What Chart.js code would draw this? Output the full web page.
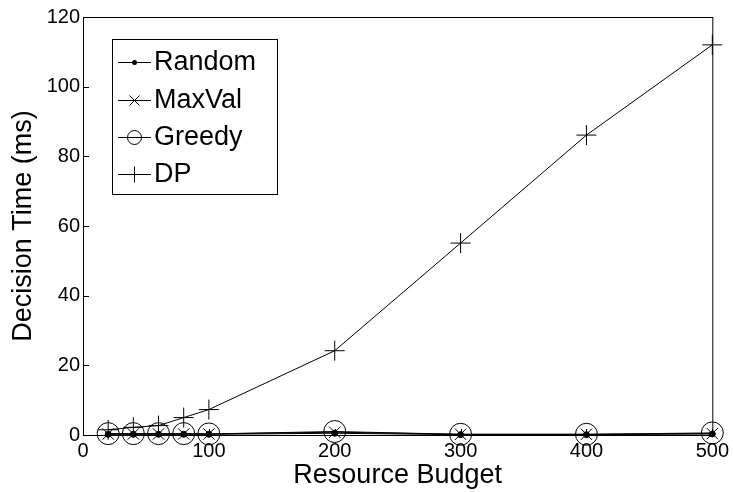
<!DOCTYPE html>
<html>
<head>
<meta charset="utf-8">
<script src="https://cdn.jsdelivr.net/npm/chart.js@4"></script>
<style>
  body { margin: 0; background: #fff; }
  #wrap { width: 733px; height: 492px; }
</style>
</head>
<body>
<div id="wrap"><canvas id="timeChart"></canvas></div>
<script>
const budgets = [20, 40, 60, 80, 100, 200, 300, 400, 500];
const randomTime = [0.2, 0.2, 0.2, 0.2, 0.2, 0.5, 0.1, 0.1, 0.3];
const maxValTime = [0.3, 0.3, 0.3, 0.3, 0.3, 0.8, 0.2, 0.2, 0.4];
const greedyTime = [0.4, 0.4, 0.4, 0.4, 0.3, 1.0, 0.2, 0.2, 0.6];
const dpTime = [1.5, 2.2, 2.7, 5.0, 7.3, 24.2, 55.1, 86.1, 112];
const xTicks = [0, 100, 200, 300, 400, 500];
const yTicks = [0, 20, 40, 60, 80, 100, 120];

const FONT = "'Liberation Sans', Arial, Helvetica, sans-serif";

function pts(ys) {
  return budgets.map((b, i) => ({ x: b, y: ys[i] }));
}

// legend entries: label, marker style, marker size
const legendItems = [
  { label: "Random", style: "dot", r: 2.5 },
  { label: "MaxVal", style: "crossRot", r: 5 },
  { label: "Greedy", style: "circle", r: 7 },
  { label: "DP", style: "cross", r: 8 }
];

function marker(ctx, style, x, y, r) {
  ctx.beginPath();
  if (style === "dot") {
    ctx.arc(x, y, r, 0, Math.PI * 2);
    ctx.fill();
    return;
  }
  if (style === "circle") {
    ctx.arc(x, y, r, 0, Math.PI * 2);
  } else if (style === "cross") {
    ctx.moveTo(x - r, y); ctx.lineTo(x + r, y);
    ctx.moveTo(x, y - r); ctx.lineTo(x, y + r);
  } else {
    ctx.moveTo(x - r, y - r); ctx.lineTo(x + r, y + r);
    ctx.moveTo(x - r, y + r); ctx.lineTo(x + r, y - r);
  }
  ctx.stroke();
}

const framePlugin = {
  id: "frame",
  afterDraw(chart) {
    const ctx = chart.ctx;
    const a = chart.chartArea;
    const xs = chart.scales.x, ys = chart.scales.y;
    ctx.save();
    ctx.strokeStyle = "#000";
    ctx.fillStyle = "#000";
    ctx.lineWidth = 1;
    ctx.strokeRect(a.left + 0.5, a.top + 0.5, a.right - a.left, a.bottom - a.top);
    // inward ticks on left and bottom
    ctx.beginPath();
    yTicks.forEach(v => {
      const py = Math.round(ys.getPixelForValue(v)) + 0.5;
      ctx.moveTo(a.left, py); ctx.lineTo(a.left + 6, py);
    });
    xTicks.forEach(v => {
      const px = Math.round(xs.getPixelForValue(v)) + 0.5;
      ctx.moveTo(px, a.bottom); ctx.lineTo(px, a.bottom - 6);
    });
    ctx.stroke();

    // legend box
    const bx = 112, by = 39, bw = 165, bh = 155;
    ctx.fillStyle = "#fff";
    ctx.fillRect(bx, by, bw, bh);
    ctx.strokeRect(bx + 0.5, by + 0.5, bw, bh);
    ctx.fillStyle = "#000";
    ctx.font = "27px " + FONT;
    ctx.textBaseline = "middle";
    const rows = [62, 100, 137, 174];
    legendItems.forEach((it, i) => {
      const y = rows[i];
      ctx.beginPath();
      ctx.moveTo(118, y + 0.5); ctx.lineTo(151, y + 0.5);
      ctx.stroke();
      marker(ctx, it.style, 134.5, y + 0.5, it.r);
      ctx.fillText(it.label, 154, y + 1);
    });
    ctx.restore();
  }
};

const lineStyle = {
  borderColor: "#000",
  backgroundColor: "transparent",
  pointBorderColor: "#000",
  borderWidth: 1,
  pointBorderWidth: 1,
  tension: 0,
  clip: false
};

new Chart(document.getElementById("timeChart"), {
  type: "line",
  data: {
    datasets: [
      Object.assign({ label: "Random", data: pts(randomTime), pointStyle: "circle", pointRadius: 3, pointBackgroundColor: "#000" }, lineStyle),
      Object.assign({ label: "MaxVal", data: pts(maxValTime), pointStyle: "crossRot", pointRadius: 8, pointBackgroundColor: "transparent" }, lineStyle),
      Object.assign({ label: "Greedy", data: pts(greedyTime), pointStyle: "circle", pointRadius: 11, pointBackgroundColor: "transparent" }, lineStyle),
      Object.assign({ label: "DP", data: pts(dpTime), pointStyle: "cross", pointRadius: 10, pointBackgroundColor: "transparent" }, lineStyle)
    ]
  },
  options: {
    responsive: true,
    maintainAspectRatio: false,
    animation: false,
    layout: { padding: { top: 17, right: 17, left: 0, bottom: 0 } },
    plugins: { legend: { display: false }, tooltip: { enabled: false } },
    scales: {
      x: {
        type: "linear",
        min: 0, max: 500,
        afterFit(s) { s.height = 57; },
        afterBuildTicks(s) { s.ticks = xTicks.map(v => ({ value: v })); },
        grid: { display: false, drawTicks: false },
        border: { display: false },
        ticks: { color: "#000", padding: 4, maxRotation: 0, font: { family: FONT, size: 20 } },
        title: { display: true, text: "Resource Budget", color: "#000", padding: { top: 4, bottom: 0 }, font: { family: FONT, size: 27 } }
      },
      y: {
        min: 0, max: 120,
        afterFit(s) { s.width = 83; },
        afterBuildTicks(s) { s.ticks = yTicks.map(v => ({ value: v })); },
        grid: { display: false, drawTicks: false },
        border: { display: false },
        ticks: { color: "#000", padding: 3, font: { family: FONT, size: 20 } },
        title: { display: true, text: "Decision Time (ms)", color: "#000", padding: { top: 7, bottom: 0 }, font: { family: FONT, size: 27 } }
      }
    }
  },
  plugins: [framePlugin]
});
</script>
</body>
</html>
